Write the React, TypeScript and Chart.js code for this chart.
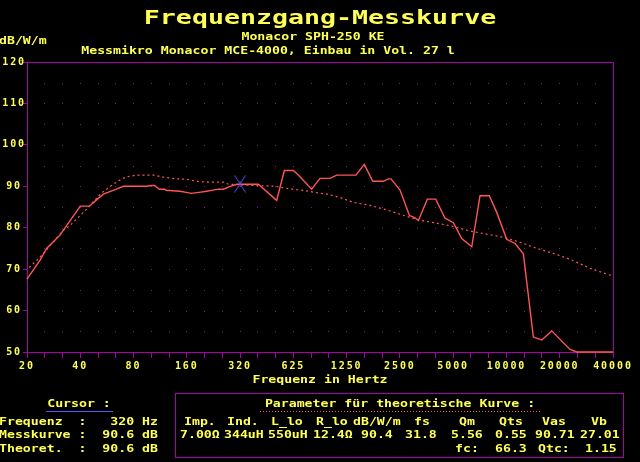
import React, { useEffect, useRef } from 'react';
import { Chart, registerables } from 'chart.js';

Chart.register(...registerables);

// ---------- data ----------
const FREQ_TICK_LABELS = ['20', '40', '80', '160', '320', '625', '1250', '2500', '5000', '10000', '20000', '40000'];
const F_MIN = 20;
const F_MAX = 40960;
const DB_MIN = 50;
const DB_MAX = 120;

const MEAS_HZ = [20, 23.7, 25.8, 30.7, 40, 45, 50, 54, 64, 70, 95, 101, 105, 112, 120, 123, 128, 146, 156, 170,
  192, 207, 221, 241, 257, 281, 306, 406, 515, 569, 639, 683, 812, 905, 1031, 1125, 1446, 1611, 1798, 2064,
  2203, 2280, 2564, 2894, 3117, 3254, 3658, 4081, 4606, 5133, 5725, 6518, 7258, 8190, 9022, 10270, 11450, 12760,
  14530, 16210, 18460, 23410, 25560, 40960];
const MEAS_DB = [67.6, 72.2, 75.0, 78.2, 85.2, 85.2, 86.9, 88.1, 89.3, 90.0, 90.0, 90.2, 90.2, 89.3, 89.3, 89.0, 89.0, 88.8, 88.6, 88.3,
  88.6, 88.8, 89.0, 89.3, 89.3, 90.0, 90.5, 90.5, 86.6, 93.8, 93.8, 92.7, 89.3, 91.9, 91.9, 92.7, 92.7, 95.3, 91.2, 91.2,
  91.8, 91.8, 89.1, 83.0, 82.4, 81.7, 86.9, 86.9, 82.3, 81.2, 77.4, 75.4, 87.7, 87.7, 83.7, 77.2, 76.2, 73.7,
  53.6, 52.9, 55.1, 50.6, 50.0, 50.0];

const THEO_HZ = [20.6, 23.3, 25.3, 32.1, 34.7, 39, 43.5, 52.4, 58.9, 65.6, 73.1, 83.4, 103.5, 118, 140,
  160, 182, 207, 257, 275, 380, 505, 587, 730, 829, 990, 1175, 1396, 1734, 2155,
  2675, 3330, 4140, 5140, 6380, 9830, 12230, 15180, 18850, 23400, 30400, 40960];
const THEO_DB = [70.4, 72.6, 74.2, 79.4, 80.4, 82.5, 84.5, 88.3, 89.9, 91.3, 92.3, 92.7, 92.7, 92.2, 91.8,
  91.7, 91.2, 91.0, 91.0, 90.5, 90.2, 90.0, 89.5, 89.0, 88.6, 88.1, 87.3, 86.1, 85.4, 84.3,
  83.0, 81.8, 81.1, 80.3, 79.2, 77.7, 76.5, 75.0, 73.8, 72.4, 70.2, 68.3];

const CURSOR_HZ = 320;
const CURSOR_DB = 90.6;

const TITLE = 'Frequenzgang-Messkurve';
const SUB1 = 'Monacor SPH-250 KE';
const SUB2 = 'Messmikro Monacor MCE-4000, Einbau in Vol. 27 l';
const Y_UNIT = 'dB/W/m';
const X_TITLE = 'Frequenz in Hertz';

const CURSOR_TITLE = 'Cursor :';
const CURSOR_ROWS = ['Frequenz  :   320 Hz', 'Messkurve :  90.6 dB', 'Theoret.  :  90.6 dB'];

const PARAM_TITLE = 'Parameter für theoretische Kurve :';
const PARAM_NAMES = ['Imp.', 'Ind.', 'L_lo', 'R_lo', 'dB/W/m', 'fs', 'Qm', 'Qts', 'Vas', 'Vb'];
const PARAM_VALUES = ['7.00Ω', '344uH', '550uH', '12.4Ω', '90.4', '31.8', '5.56', '0.55', '90.71', '27.01'];
const PARAM_EXTRA = ['fc:', '66.3', 'Qtc:', '1.15'];

// ---------- layout / style ----------
const NAME_X = [185.7, 228.6, 272.7, 317.6, 354.3, 415.5, 460, 500, 543.7, 592.7];
const VALUE_X = [180.8, 224.9, 269.4, 314.7, 362.4, 406.5, 451.8, 495.9, 535.9, 580.8];
const EXTRA_X = [456.3, 495.9, 539.6, 586.5];

const YELLOW = '#ffff55';
const MAGENTA = '#aa00aa';
const RED = '#ff5555';
const BLUE = '#5555ff';
const MONO = '"DejaVu Sans Mono", monospace';

type TxtProps = { x: number; y: number; text: string; align?: 'left' | 'center'; size?: number; sx?: number; color?: string };

function Txt({ x, y, text, align = 'left', size = 10, sx = 1.32, color = YELLOW }: TxtProps) {
  const style: React.CSSProperties = {
    position: 'absolute',
    top: y - 0.117 * size,
    whiteSpace: 'pre',
    font: `bold ${size}px ${MONO}`,
    lineHeight: `${size}px`,
    color,
    transform: `scaleX(${sx})`,
  };
  if (align === 'center') {
    style.left = x - 400;
    style.width = 800;
    style.textAlign = 'center';
    style.transformOrigin = '50% 0';
  } else {
    style.left = x - 1.3;
    style.transformOrigin = '0 0';
  }
  return <div style={style}>{text}</div>;
}

const dotGridPlugin = {
  id: 'dotGrid',
  beforeUpdate(chart: any) {
    chart.ctx.letterSpacing = '1.9px';
  },
  beforeDraw(chart: any) {
    chart.ctx.letterSpacing = '1.9px';
  },
  beforeDatasetsDraw(chart: any) {
    const { ctx, chartArea, scales } = chart;
    const xs = scales.x;
    const ys = scales.y;
    ctx.save();
    ctx.fillStyle = MAGENTA;
    const xt = xs.ticks.slice(1, -1);
    for (let v = DB_MIN + 5; v < DB_MAX; v += 5) {
      const py = Math.round(ys.getPixelForValue(v));
      for (const t of xt) {
        const px = Math.floor(xs.getPixelForValue(t.value));
        ctx.fillRect(px, py, 1, 1);
      }
    }
    ctx.strokeStyle = MAGENTA;
    ctx.lineWidth = 1;
    ctx.beginPath();
    const top = Math.round(chartArea.top) + 0.5;
    const right = Math.round(chartArea.right) + 0.5;
    ctx.moveTo(chartArea.left, top);
    ctx.lineTo(right, top);
    ctx.lineTo(right, chartArea.bottom + 6);
    ctx.stroke();
    ctx.restore();
  },
};

export default function App() {
  const canvasRef = useRef<HTMLCanvasElement | null>(null);

  useEffect(() => {
    const canvas = canvasRef.current;
    if (!canvas) return;

    const marker = document.createElement('canvas');
    marker.width = 12;
    marker.height = 18;
    const mctx = marker.getContext('2d')!;
    mctx.strokeStyle = BLUE;
    mctx.lineWidth = 1;
    mctx.beginPath();
    mctx.moveTo(0.5, 0.5);
    mctx.lineTo(11.5, 17.5);
    mctx.moveTo(11.5, 0.5);
    mctx.lineTo(0.5, 17.5);
    mctx.moveTo(6, 6.5);
    mctx.lineTo(6, 11.5);
    mctx.stroke();

    const font = { family: MONO, size: 10, weight: 'bold' as const };

    const chart = new Chart(canvas, {
      type: 'line',
      data: {
        datasets: [
          {
            label: 'Messkurve',
            data: MEAS_HZ.map((f, i) => ({ x: f, y: MEAS_DB[i] })),
            borderColor: RED,
            borderWidth: 1.4,
            pointRadius: 0,
            tension: 0,
            clip: 4,
            order: 1,
          },
          {
            label: 'Theoretisch',
            data: THEO_HZ.map((f, i) => ({ x: f, y: THEO_DB[i] })),
            borderColor: RED,
            borderWidth: 1.2,
            borderDash: [2, 3],
            pointRadius: 0,
            tension: 0,
            clip: 4,
            order: 2,
          },
          {
            label: 'Cursor',
            data: [{ x: CURSOR_HZ, y: CURSOR_DB }],
            showLine: false,
            pointStyle: marker as any,
            pointRadius: 6,
            borderColor: BLUE,
            order: 0,
          },
        ],
      },
      options: {
        responsive: false,
        animation: false,
        events: [],
        layout: { padding: { top: 62, right: 27, bottom: 86, left: 0 } },
        plugins: {
          legend: { display: false },
          title: { display: false },
          tooltip: { enabled: false },
        },
        scales: {
          x: {
            type: 'logarithmic',
            min: F_MIN,
            max: F_MAX,
            afterBuildTicks: (s: any) => {
              s.ticks = Array.from({ length: 34 }, (_, k) => ({ value: F_MIN * Math.pow(2, k / 3) }));
            },
            afterFit: (s: any) => {
              s.height = 24;
            },
            ticks: {
              autoSkip: false,
              maxRotation: 0,
              minRotation: 0,
              padding: 2,
              color: YELLOW,
              font,
              callback: (_v: any, i: number) => (i % 3 === 0 ? FREQ_TICK_LABELS[i / 3] : ''),
            },
            grid: {
              drawOnChartArea: false,
              drawTicks: true,
              tickLength: 6,
              tickColor: MAGENTA,
              color: MAGENTA,
            },
            border: { color: MAGENTA, width: 1 },
          },
          y: {
            type: 'linear',
            min: DB_MIN,
            max: DB_MAX,
            afterFit: (s: any) => {
              s.width = 27;
            },
            ticks: {
              stepSize: 10,
              color: YELLOW,
              font,
              crossAlign: 'center',
              padding: -3,
            },
            grid: {
              drawOnChartArea: false,
              drawTicks: true,
              tickLength: 4,
              tickColor: MAGENTA,
              color: MAGENTA,
            },
            border: { color: MAGENTA, width: 1 },
          },
        },
      },
      plugins: [dotGridPlugin],
    });

    return () => {
      chart.destroy();
    };
  }, []);

  return (
    <div
      style={{
        position: 'fixed',
        left: 0,
        top: 0,
        width: 640,
        height: 462,
        background: '#000',
        overflow: 'hidden',
      }}
    >
      <canvas ref={canvasRef} width={640} height={462} style={{ position: 'absolute', left: 0, top: 0, width: 640, height: 462 }} />

      <Txt x={320} y={9} text={TITLE} align="center" size={20} sx={1.33} />
      <Txt x={312.5} y={33} text={SUB1} align="center" />
      <Txt x={0} y={37.5} text={Y_UNIT} />
      <Txt x={268} y={47.5} text={SUB2} align="center" />
      <Txt x={320} y={376} text={X_TITLE} align="center" />

      <Txt x={79.4} y={400} text={CURSOR_TITLE} align="center" />
      <div style={{ position: 'absolute', left: 46, top: 411, width: 67, height: 1, background: BLUE }} />
      {CURSOR_ROWS.map((r, i) => (
        <Txt key={r} x={0} y={[418, 431.3, 445][i]} text={r} />
      ))}

      <div
        style={{
          position: 'absolute',
          left: 175,
          top: 393,
          width: 449,
          height: 65,
          boxSizing: 'border-box',
          border: `1px solid ${MAGENTA}`,
        }}
      />
      <Txt x={399.6} y={400} text={PARAM_TITLE} align="center" />
      <div
        style={{
          position: 'absolute',
          left: 260,
          top: 411,
          width: 281,
          height: 1,
          background: `repeating-linear-gradient(to right, ${RED} 0 1px, transparent 1px 3px)`,
        }}
      />
      {PARAM_NAMES.map((n, i) => (
        <Txt key={'n' + i} x={NAME_X[i]} y={418} text={n} />
      ))}
      {PARAM_VALUES.map((v, i) => (
        <Txt key={'v' + i} x={VALUE_X[i]} y={431.3} text={v} />
      ))}
      {PARAM_EXTRA.map((v, i) => (
        <Txt key={'e' + i} x={EXTRA_X[i]} y={445} text={v} />
      ))}
    </div>
  );
}
